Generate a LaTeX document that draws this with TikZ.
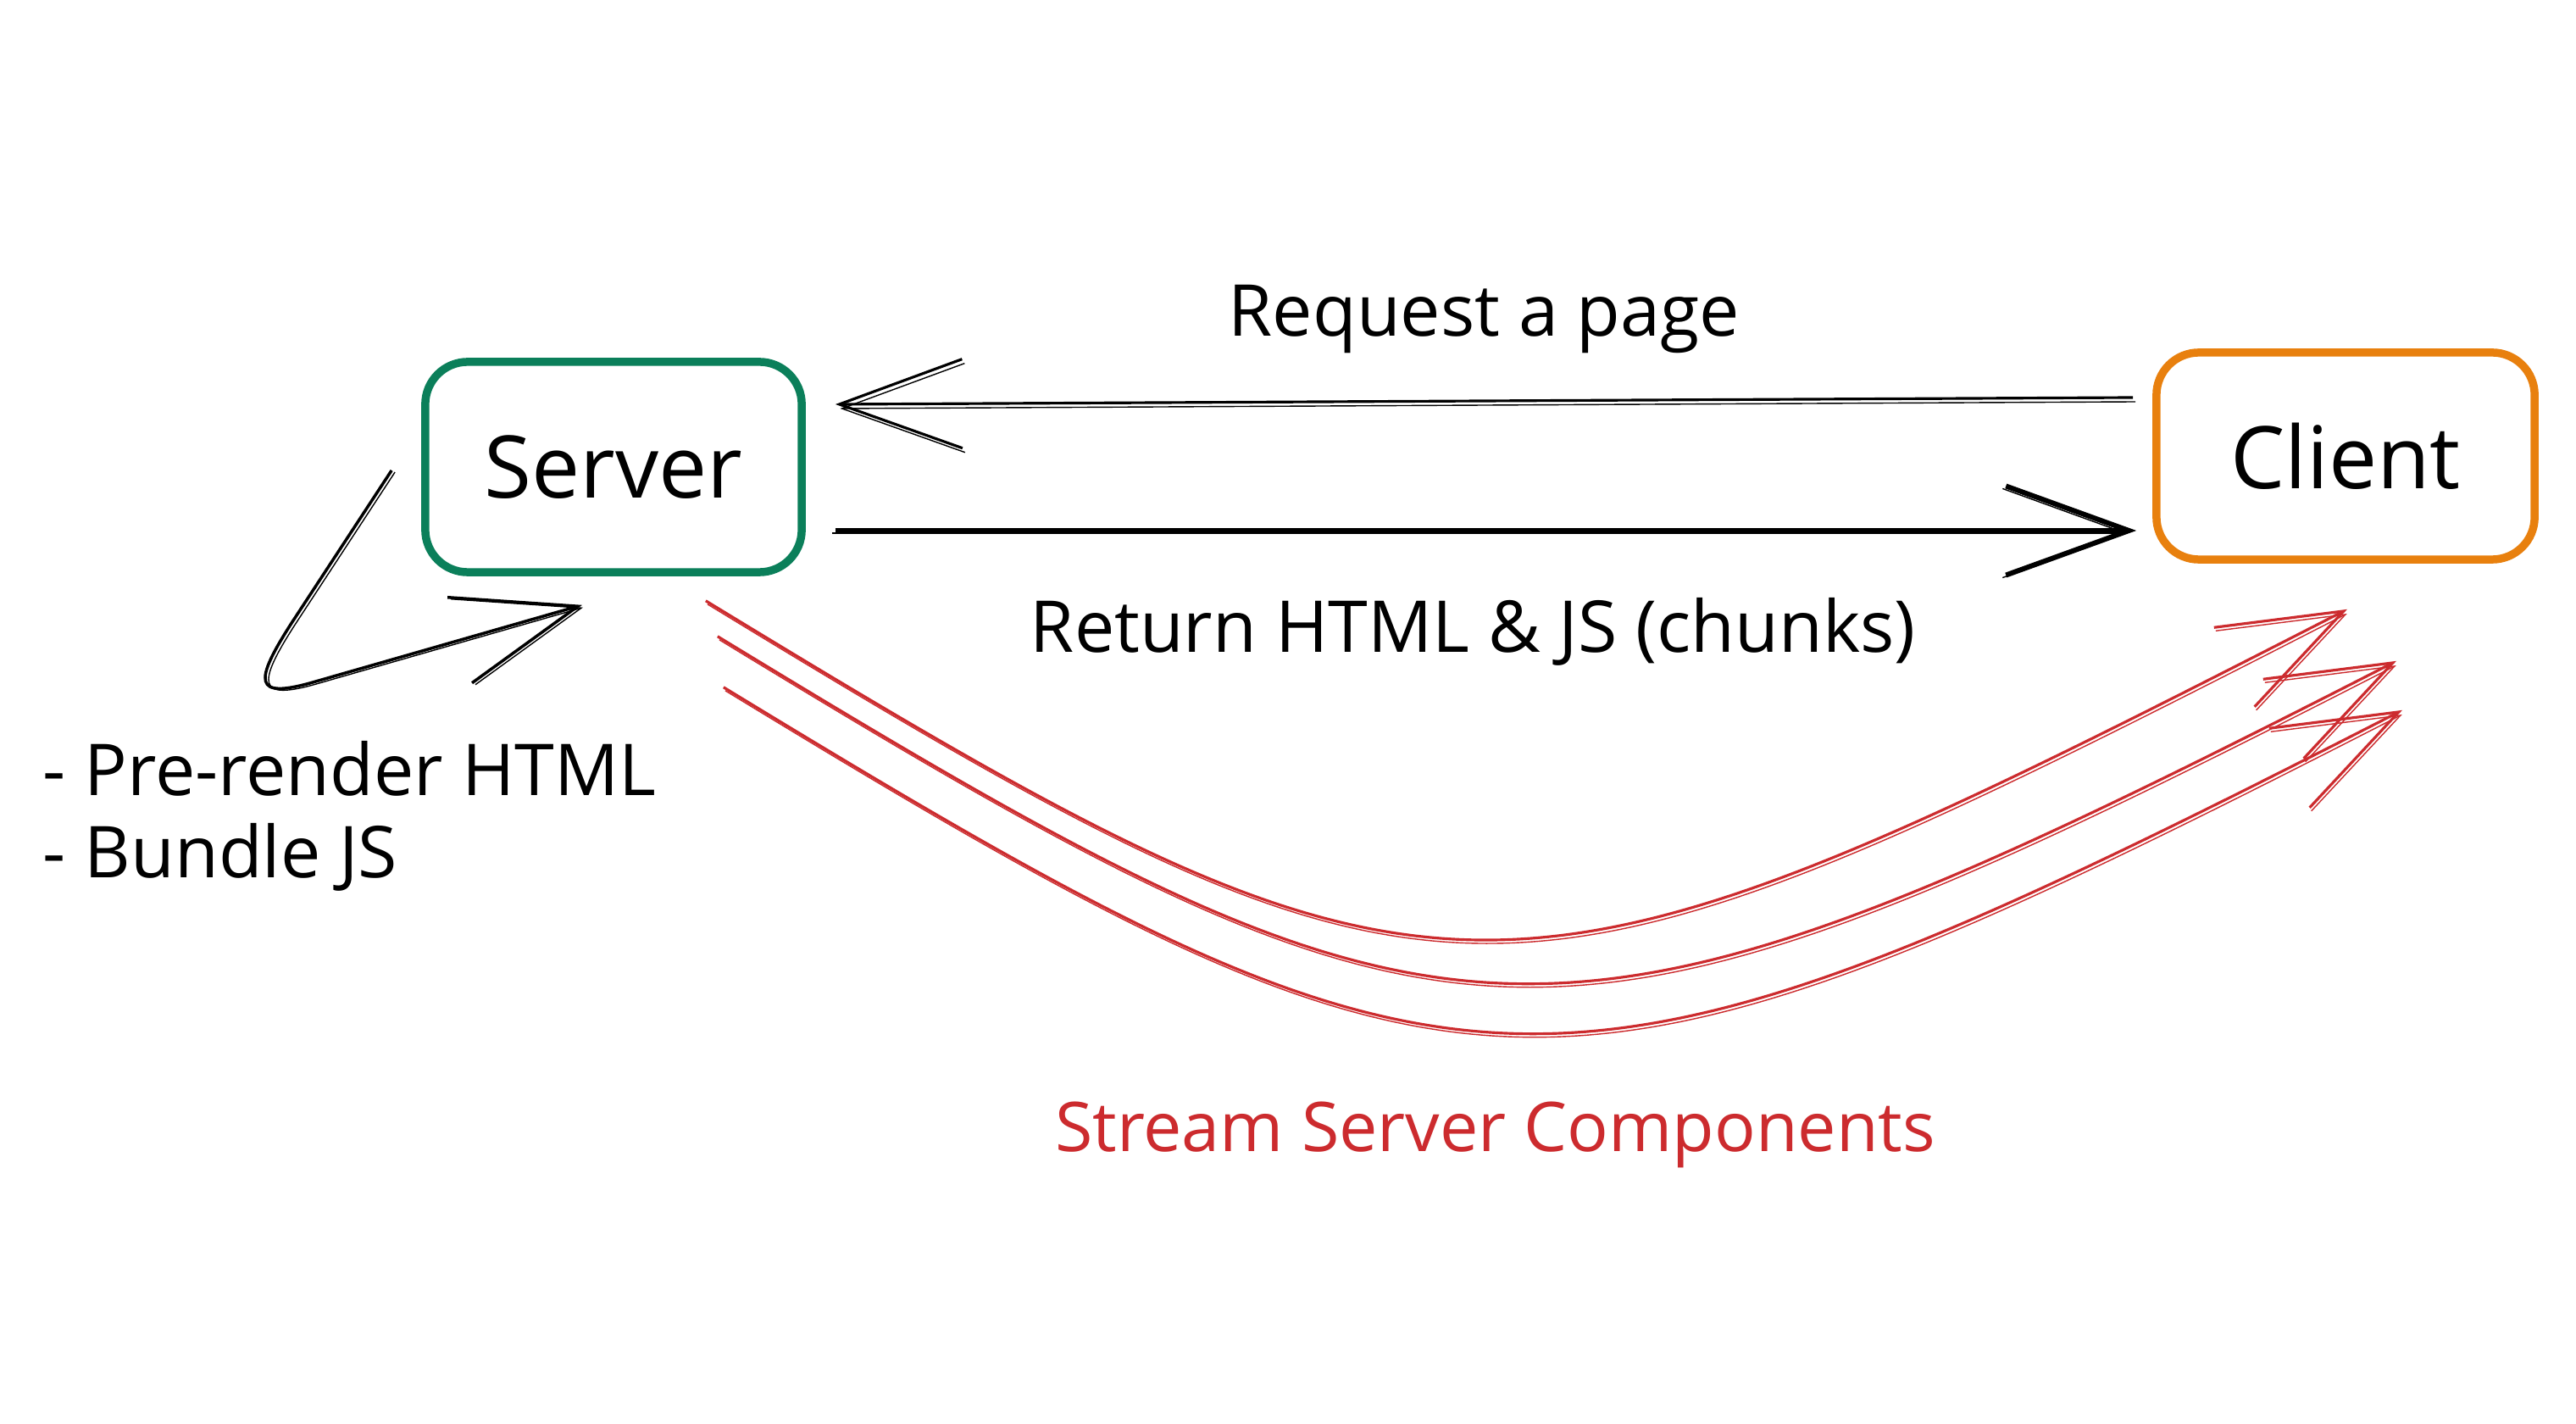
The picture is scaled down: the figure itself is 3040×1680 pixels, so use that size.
\documentclass[tikz,border=0pt]{standalone}
\usepackage{fontspec}
\setmainfont{Open Sans}
\usetikzlibrary{arrows.meta,calc}
\definecolor{srvgreen}{HTML}{0B7F5A}
\definecolor{cliorange}{HTML}{E8800E}
\definecolor{streamred}{HTML}{CC2B2E}

\begin{document}
\begin{tikzpicture}[x=0.01cm, y=-0.01cm,
        box/.style={line width=2.7pt, rounded corners=0.5cm, minimum width=4.44cm, minimum height=2.48cm, font=\fontsize{29}{34}\selectfont},
        barb/.style={-{Straight Barb[length=1.45cm, width=1.05cm]}},
        twostroke/.style={preaction={draw, transform canvas={shift={(#1)}}}},
        lbl/.style={inner sep=0pt, font=\fontsize{24}{27.5}\selectfont}]
        \fill[white] (0,0) rectangle (3040,1680);
        \useasboundingbox (0,0) rectangle (3040,1680);

        % Boxes.
        \node[box, draw=srvgreen] (server) at (724,551) {Server};
        \node[box, draw=cliorange, minimum width=4.46cm, minimum height=2.44cm] (client) at (2768,538) {Client};

        %request
        \draw[barb, line width=0.9pt, twostroke={3,5}] ($(client.west)+(-23,-69)$) -- ($(server.east)+(35,-74)$)
            node[lbl, midway, above=0.55cm] (reqlabel) {Request a page};

        %return
        \draw[barb, line width=1.7pt, twostroke={-4,3}] ($(server.east)+(35,75)$) -- ($(client.west)+(-19,88)$)
            node[lbl, pos=0.49, below=0.76cm] (retlabel) {Return HTML \& JS (chunks)};

        %pre-render
        \draw[barb, line width=1pt, twostroke={4,2}] ($(server.west)+(-35,4)$) -- ++(-118,180)
            .. controls +(-45,70) and +(-70,20) .. ++(25,70) -- ($(server.south)+(-37,34)$);
        \node[lbl, anchor=west, align=left] (tasks) at (50,963) {- Pre-render HTML\\- Bundle JS};

        %stream
        \begin{scope}[streamred]
        \draw[barb, line width=0.9pt, twostroke={2,4}] ($(server.south east)+(-118,29)$)
            .. controls +(880,536) and +(-1010,517) .. ($(client.south)+(2,54)$);
        \draw[barb, line width=0.9pt, twostroke={2,4}] ($(server.south east)+(-104,71)$)
            .. controls +(880,536) and +(-1010,517) .. ($(client.south)+(60,115)$);
        \draw[barb, line width=0.9pt, twostroke={2,4}] ($(server.south east)+(-97,131)$)
            .. controls +(880,536) and +(-1010,517) .. ($(client.south)+(67,173)$)
            node[lbl, font=\fontsize{23}{27}\selectfont, pos=0.48, below=0.8cm] (streamlabel) {Stream Server Components};
        \end{scope}
\end{tikzpicture}
\end{document}
